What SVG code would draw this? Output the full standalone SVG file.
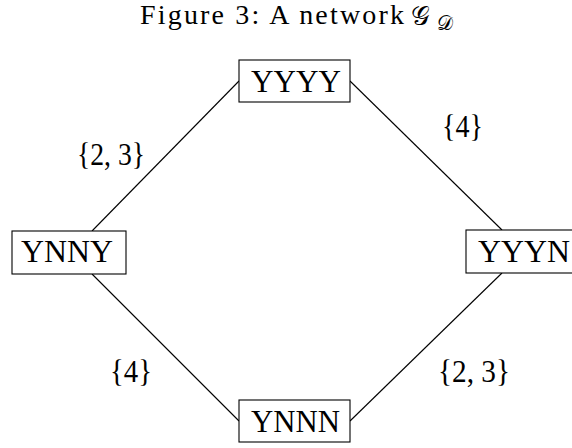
<svg xmlns="http://www.w3.org/2000/svg" width="572" height="448" viewBox="0 0 572 448">
  <style>
    .box { fill: #ffffff; stroke: #000000; stroke-width: 1.1; }
    .lbl { font-family: "Liberation Serif", "DejaVu Serif", serif; font-size: 32px; fill: #000000; }
    .edge { stroke: #000000; stroke-width: 1.1; fill: none; }
    .title { font-family: "Liberation Serif", "DejaVu Serif", serif; font-size: 28px; fill: #000000; }
    .script { font-family: "DejaVu Sans", "Noto Sans", sans-serif; fill: #000000; }
  </style>
  <rect width="572" height="448" fill="#ffffff"/>

  <!-- caption -->
  <text class="title" x="140" y="24" textLength="264" lengthAdjust="spacing">Figure 3:  A network</text>
  <text class="script" x="411" y="25" font-size="26">𝒢</text>
  <text class="script" x="437" y="30" font-size="20">𝒟</text>

  <!-- connectors -->
  <g id="edges">
    <line class="edge" x1="92" y1="231" x2="239" y2="81"/>
    <line class="edge" x1="350" y1="81" x2="502" y2="230"/>
    <line class="edge" x1="92" y1="274" x2="239" y2="421"/>
    <line class="edge" x1="502" y1="273" x2="350" y2="421"/>
    <text class="lbl" x="77" y="165" textLength="68" lengthAdjust="spacingAndGlyphs">{2, 3}</text>
    <text class="lbl" x="442" y="137" textLength="41" lengthAdjust="spacingAndGlyphs">{4}</text>
    <text class="lbl" x="110" y="382" textLength="42" lengthAdjust="spacingAndGlyphs">{4}</text>
    <text class="lbl" x="438" y="382" textLength="72" lengthAdjust="spacingAndGlyphs">{2, 3}</text>
  </g>

  <!-- nodes -->
  <g id="YYYY">
    <rect class="box" x="239" y="60" width="111" height="42"/>
    <text class="lbl" x="251" y="92" textLength="90" lengthAdjust="spacingAndGlyphs">YYYY</text>
  </g>
  <g id="YNNY">
    <rect class="box" x="12" y="231" width="114" height="43"/>
    <text class="lbl" x="21" y="262" textLength="92" lengthAdjust="spacingAndGlyphs">YNNY</text>
  </g>
  <g id="YYYN">
    <rect class="box" x="466" y="230" width="114" height="43"/>
    <text class="lbl" x="478" y="262" textLength="92" lengthAdjust="spacingAndGlyphs">YYYN</text>
  </g>
  <g id="YNNN">
    <rect class="box" x="239" y="400" width="111" height="42"/>
    <text class="lbl" x="251" y="432" textLength="89" lengthAdjust="spacingAndGlyphs">YNNN</text>
  </g>
</svg>
